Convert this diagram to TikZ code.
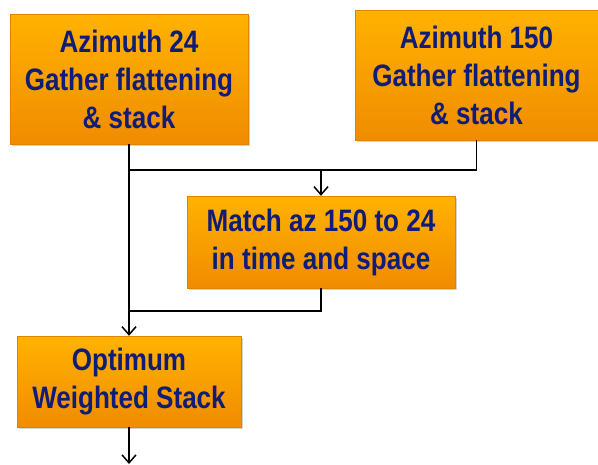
\documentclass[tikz,border=0pt]{standalone}
\usepackage{fontspec}
\setmainfont{Liberation Sans}[FakeStretch=0.84]
\usetikzlibrary{arrows.meta,shadows}

\definecolor{boxtop}{RGB}{255,178,0}
\definecolor{boxbot}{RGB}{240,140,0}
\definecolor{boxline}{RGB}{225,130,0}
\definecolor{boxtext}{RGB}{15,28,120}

\tikzset{
  stepbox/.style={draw=boxline, thin, top color=boxtop, bottom color=boxbot,
    drop shadow={opacity=0.35, shadow xshift=2pt, shadow yshift=-2pt},
    text=boxtext, align=center, inner sep=0pt,
    font=\fontsize{31pt}{38pt}\selectfont\bfseries},
  flow/.style={line width=1.5pt},
  flowarrow/.style={flow, -{Straight Barb[length=8pt,width=14pt,line width=1.5pt]}}
}

\begin{document}
\begin{tikzpicture}

\newcommand\X{1pt}
\newcommand\Y{1pt}

\useasboundingbox (0,0) rectangle (598*\X,-464*\Y); %% spacing

%% processing steps
\node[stepbox, minimum width=238*\X, minimum height=130*\Y]
  (az24) at (129*\X,-79*\Y) {Azimuth 24\\Gather flattening\\\& stack};
\node[stepbox, minimum width=243*\X, minimum height=130*\Y]
  (az150) at (476.5*\X,-75*\Y) {Azimuth 150\\Gather flattening\\\& stack};
\node[stepbox, minimum width=268*\X, minimum height=92*\Y]
  (match) at (321*\X,-242*\Y) {Match az 150 to 24\\in time and space};
\node[stepbox, minimum width=224*\X, minimum height=91*\Y]
  (ows) at (129*\X,-381.5*\Y) {Optimum\\Weighted Stack};

%% junctions and the open end
\coordinate (j1) at (129*\X,-170*\Y);
\coordinate (j2) at (129*\X,-311*\Y);
\coordinate (out) at (129*\X,-464*\Y);

%% connectors
\draw[flowarrow] (az24.south) -- (ows.north);
\draw[flow] (az150.south) |- (j1);
\draw[flowarrow] (match.north |- j1) -- (match.north);
\draw[flow] (match.south) |- (j2);
\draw[flowarrow] (ows.south) -- (out);

\end{tikzpicture}
\end{document}
